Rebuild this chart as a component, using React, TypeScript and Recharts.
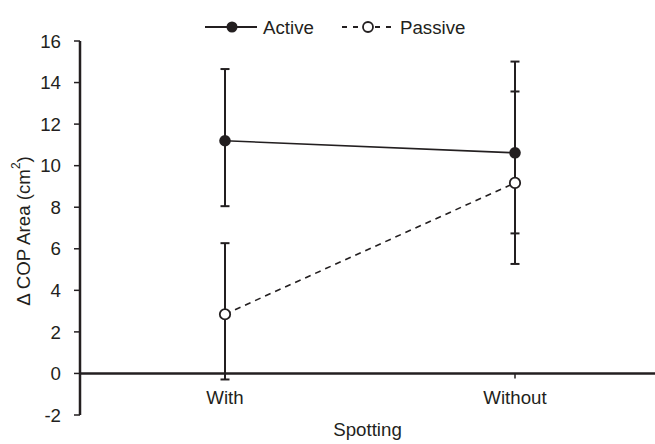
import { LineChart, Line, XAxis, YAxis, ErrorBar, ReferenceLine, ReferenceDot, Legend } from "recharts";

const INK = "#231f20";
const FONT = "'Liberation Sans', Arial, sans-serif";
const FS = 18.7;

const categories = ["With", "Without"];
const activeMean = [11.2, 10.62];
const activeLow = [8.05, 6.74];
const activeHigh = [14.65, 15.01];
const passiveMean = [2.85, 9.17];
const passiveLow = [-0.29, 5.27];
const passiveHigh = [6.27, 13.57];
const yTicks = [-2, 0, 2, 4, 6, 8, 10, 12, 14, 16];

const data = categories.map((cat, i) => ({
  cat,
  active: activeMean[i],
  activeErr: [activeMean[i] - activeLow[i], activeHigh[i] - activeMean[i]],
  passive: passiveMean[i],
  passiveErr: [passiveMean[i] - passiveLow[i], passiveHigh[i] - passiveMean[i]],
}));

function FilledDot(props: any) {
  const { cx, cy } = props;
  return <circle key={`a-${cx}`} cx={cx} cy={cy} r={5.8} fill={INK} stroke="none" />;
}

function OpenDot(props: any) {
  const { cx, cy } = props;
  return <circle key={`p-${cx}`} cx={cx} cy={cy} r={5.2} fill="#fff" stroke={INK} strokeWidth={1.8} />;
}

function LegendContent() {
  return (
    <svg width={280} height={22} style={{ display: "block" }}>
      <line x1={0} y1={11} x2={52} y2={11} stroke={INK} strokeWidth={1.8} />
      <circle cx={27} cy={11} r={5.5} fill={INK} />
      <text x={58} y={17.5} fontSize={FS} fill={INK} fontFamily={FONT}>Active</text>
      <line x1={137} y1={11} x2={188} y2={11} stroke={INK} strokeWidth={1.8} strokeDasharray="5 6" />
      <circle cx={163} cy={11} r={5} fill="#fff" stroke={INK} strokeWidth={1.8} />
      <text x={195} y={17.5} fontSize={FS} fill={INK} fontFamily={FONT}>Passive</text>
    </svg>
  );
}

function CatTick(props: any) {
  const { cx, cy, label } = props;
  return (
    <g>
      <line x1={cx} y1={cy} x2={cx} y2={cy + 5} stroke={INK} strokeWidth={1.5} />
      <text x={cx} y={cy + 31} textAnchor="middle" fontSize={FS} fill={INK} fontFamily={FONT}>
        {label}
      </text>
    </g>
  );
}

function YLabel(props: any) {
  const { viewBox } = props;
  const x = 23;
  const y = viewBox.y + viewBox.height / 2 + 3;
  return (
    <text
      x={x}
      y={y}
      transform={`rotate(-90, ${x}, ${y})`}
      textAnchor="middle"
      dominantBaseline="central"
      fontSize={FS}
      fill={INK}
      fontFamily={FONT}
    >
      Δ COP Area (cm
      <tspan fontSize={12} dy={-7}>2</tspan>
      <tspan dy={7}>)</tspan>
    </text>
  );
}

export default function App() {
  return (
    <div style={{ position: "absolute", left: 0, top: 0, fontFamily: FONT }}>
      <LineChart width={655} height={444} data={data} margin={{ top: 19, right: 0, bottom: 0, left: 0 }}>
        <XAxis
          dataKey="cat"
          scale="point"
          padding={{ left: 145, right: 140 }}
          axisLine={false}
          tickLine={false}
          tick={false}
          height={29}
          label={{ value: "Spotting", position: "insideBottom", offset: 8, fontSize: FS, fill: INK }}
        />
        <YAxis
          type="number"
          domain={[-2, 16]}
          ticks={yTicks}
          width={80}
          tickSize={6}
          tickMargin={13}
          axisLine={{ stroke: INK, strokeWidth: 2.5 }}
          tickLine={{ stroke: INK, strokeWidth: 1.5 }}
          tick={{ fontSize: FS, fill: INK }}
          label={<YLabel />}
        />
        <ReferenceLine y={0} stroke={INK} strokeWidth={2.5} />
        {categories.map((c) => (
          <ReferenceDot key={c} x={c} y={0} r={0} shape={(p: any) => <CatTick {...p} label={c} />} />
        ))}
        <Legend
          content={<LegendContent />}
          verticalAlign="top"
          wrapperStyle={{ position: "absolute", top: 16, left: 205, width: 280 }}
        />
        <Line
          name="Active"
          dataKey="active"
          stroke={INK}
          strokeWidth={1.6}
          dot={<FilledDot />}
          isAnimationActive={false}
        >
          <ErrorBar dataKey="activeErr" direction="y" width={4.5} stroke={INK} strokeWidth={2} />
        </Line>
        <Line
          name="Passive"
          dataKey="passive"
          stroke={INK}
          strokeWidth={1.6}
          strokeDasharray="6 5"
          dot={<OpenDot />}
          isAnimationActive={false}
        >
          <ErrorBar dataKey="passiveErr" direction="y" width={4.5} stroke={INK} strokeWidth={2} />
        </Line>
      </LineChart>
    </div>
  );
}
